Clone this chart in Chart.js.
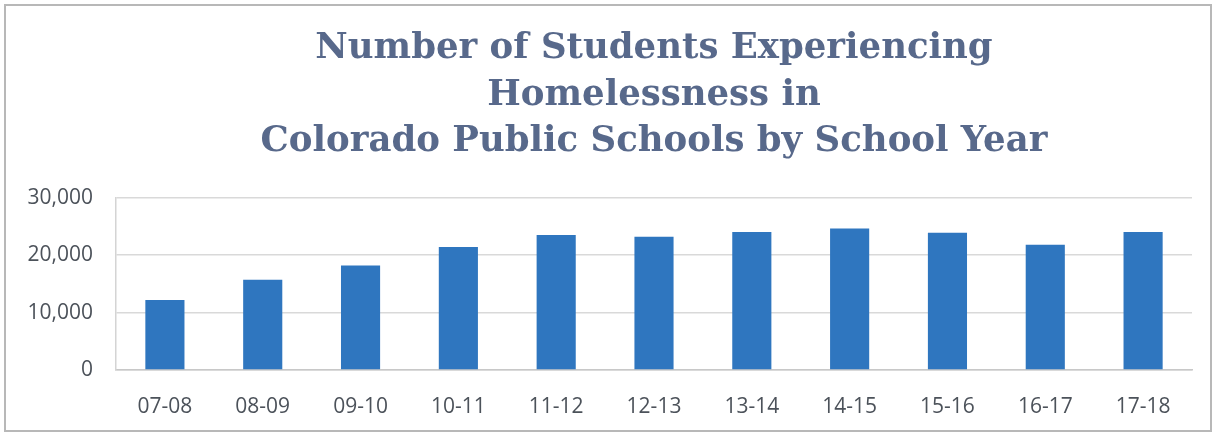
<!DOCTYPE html>
<html>
<head>
<meta charset="utf-8">
<script src="https://cdn.jsdelivr.net/npm/chart.js@4/dist/chart.umd.min.js"></script>
<style>
  html, body { margin: 0; padding: 0; background: #fff; }
  #frame {
    position: absolute; left: 4px; top: 4px;
    width: 1208px; height: 428px;
    border: 2px solid #b8b8b8; box-sizing: border-box;
  }
</style>
</head>
<body>
<div id="frame"><canvas id="homelessChart"></canvas></div>
<script>
// school years and student counts
const schoolYears = ['07-08', '08-09', '09-10', '10-11', '11-12', '12-13', '13-14', '14-15', '15-16', '16-17', '17-18'];
const studentCounts = [12200, 15700, 18200, 21400, 23500, 23200, 24000, 24600, 23900, 21800, 24000];
const yTicks = [0, 10000, 20000, 30000];
const titleLines = ['Number of Students Experiencing', 'Homelessness in', 'Colorado Public Schools by School Year'];

const fmt = new Intl.NumberFormat('en-US');
const tickFont = { family: "'Open Sans', sans-serif", size: 21 };
const tickColor = '#4c525a';

const ctx = document.getElementById('homelessChart').getContext('2d');
new Chart(ctx, {
    type: 'bar',
    data: {
        labels: schoolYears,
        datasets: [{
            data: studentCounts,
            backgroundColor: '#2f76bf',
            barPercentage: 0.8,
            categoryPercentage: 0.5
        }]
    },
    options: {
        responsive: true,
        maintainAspectRatio: false,
        animation: false,
        layout: { padding: { left: 0, right: 18, top: 0, bottom: 0 } },
        plugins: {
            legend: { display: false },
            tooltip: { enabled: false },
            title: {
                display: true,
                fullSize: false,
                text: titleLines,
                color: '#58698b',
                font: { family: "'DejaVu Serif', serif", size: 35.5, weight: 'bold', lineHeight: 1.32 },
                padding: { top: 19, bottom: 32 }
            }
        },
        scales: {
            x: {
                afterFit: scale => { scale.height = 60; },
                grid: { display: false, drawTicks: false },
                border: { display: true, color: '#c8c8c8', width: 1.5 },
                ticks: { color: tickColor, font: tickFont, padding: 24, maxRotation: 0 }
            },
            y: {
                min: 0,
                max: 30000,
                afterFit: scale => { scale.width = 110; },
                afterBuildTicks: scale => { scale.ticks = yTicks.map(v => ({ value: v })); },
                grid: { color: '#d9d9d9', lineWidth: 1.5, drawTicks: false },
                border: { display: true, color: '#d4d4d4', width: 1.5 },
                ticks: {
                    color: tickColor,
                    font: tickFont,
                    padding: 23,
                    callback: v => fmt.format(v)
                }
            }
        }
    }
});
</script>
</body>
</html>
